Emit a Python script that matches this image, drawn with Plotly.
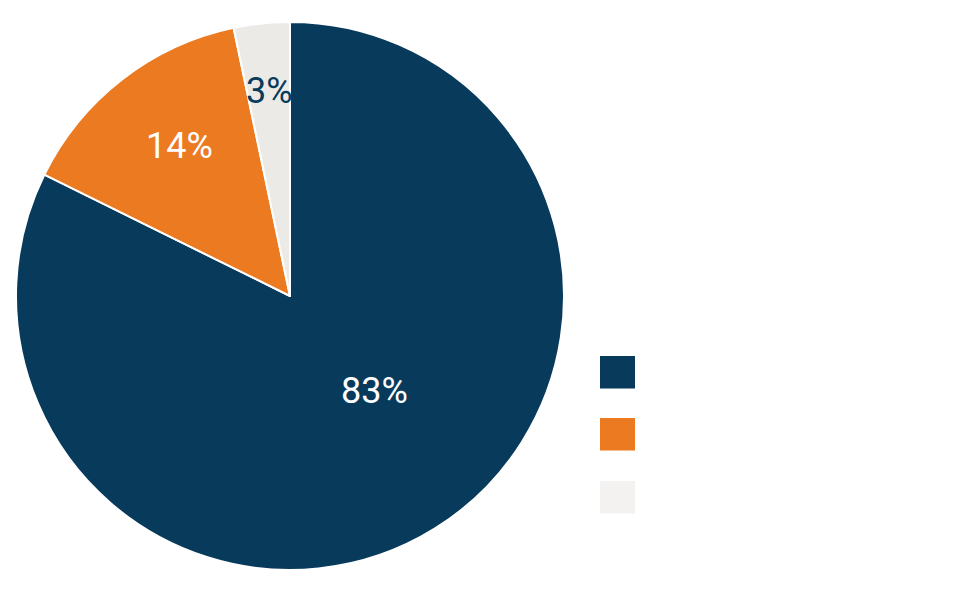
import math
import plotly.graph_objects as go

labels = ["Category A", "Category B", "Category C"]
values = [82.3, 14.4, 3.3]
value_labels = ["83%", "14%", "3%"]
colors = ["#083A5C", "#EB7A21", "#EBEAE7"]
legend_colors = ["#083A5C", "#EB7A21", "#F3F2F0"]
text_colors = ["#FFFFFF", "#FFFFFF", "#083A5C"]

# label placement style (fraction of radius, angular nudge in degrees)
label_radius = [0.462, 0.683, 0.755]
label_nudge = [-10.1, 1.6, 0.15]

W, H = 961, 593
CX, CY, R = 282, 288, 274  # pie centre / radius in figure pixels

fig = go.Figure()
fig.add_trace(go.Pie(
    labels=labels,
    values=values,
    sort=False,
    direction="clockwise",
    rotation=0,
    marker=dict(colors=colors, line=dict(color="#FFFFFF", width=2)),
    textinfo="none",
    domain=dict(x=[(CX - R) / W, (CX + R) / W], y=[1 - (CY + R) / H, 1 - (CY - R) / H]),
    showlegend=False,
    hoverinfo="label+percent",
))

annotations = []
total = sum(values)
cum = 0.0
for i, v in enumerate(values):
    mid = (cum + v / 2) / total * 360.0 + label_nudge[i]
    cum += v
    a = math.radians(mid)
    px = CX + R * label_radius[i] * math.sin(a)
    py = CY - R * label_radius[i] * math.cos(a) + 1
    annotations.append(dict(
        text=value_labels[i], xref="paper", yref="paper",
        x=px / W, y=1 - py / H, xanchor="center", yanchor="middle",
        showarrow=False,
        font=dict(family="Roboto", size=36, color=text_colors[i]),
    ))

# Legend drawn as swatches with label text
sw_x0, sw_x1 = 592, 627
sw_tops = [348, 410, 473]
sw_h = 32.5
shapes = []
for i, (lab, col) in enumerate(zip(labels, legend_colors)):
    top = sw_tops[i]
    shapes.append(dict(
        type="rect", xref="paper", yref="paper",
        x0=sw_x0 / W, x1=sw_x1 / W,
        y0=1 - (top + sw_h) / H, y1=1 - top / H,
        fillcolor=col, line=dict(width=0),
    ))
    annotations.append(dict(
        text=lab, xref="paper", yref="paper",
        x=(sw_x1 + 12) / W, y=1 - (top + sw_h / 2) / H,
        xanchor="left", yanchor="middle", showarrow=False,
        font=dict(family="Roboto", size=22, color="#FFFFFF"),
    ))

fig.update_layout(
    width=W, height=H,
    margin=dict(l=0, r=0, t=0, b=0),
    paper_bgcolor="#FFFFFF",
    plot_bgcolor="#FFFFFF",
    shapes=shapes,
    annotations=annotations,
    font=dict(family="Roboto"),
)

fig.write_html("out.html")
